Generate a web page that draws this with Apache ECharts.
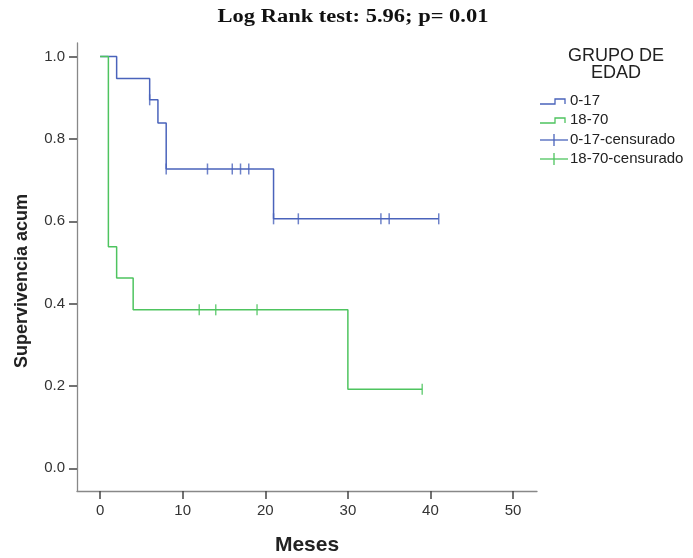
<!DOCTYPE html>
<html>
<head>
<meta charset="utf-8">
<script src="https://cdn.jsdelivr.net/npm/echarts@6/dist/echarts.min.js"></script>
<style>
  html, body { margin: 0; padding: 0; background: #fff; }
  #main { width: 693px; height: 558px; }
</style>
</head>
<body>
<div id="main"></div>
<script>
// curvas Kaplan-Meier (tiempo en meses, supervivencia acumulada)
var tiempoJoven = [0, 2, 6, 7, 8, 21, 41];
var survJoven   = [1, 0.947, 0.895, 0.839, 0.727, 0.606, 0.606];
var tiempoAdulto = [0, 1, 2, 4, 30, 39];
var survAdulto   = [1, 0.538, 0.462, 0.385, 0.192, 0.192];

// casos censurados
var censJovenT = [6, 8, 13, 16, 17, 18, 21, 24, 34, 35, 41];
var censJovenS = [0.895, 0.727, 0.727, 0.727, 0.727, 0.727, 0.606, 0.606, 0.606, 0.606, 0.606];
var censAdultoT = [12, 14, 19, 39];
var censAdultoS = [0.385, 0.385, 0.385, 0.192];

var xTicks = [0, 10, 20, 30, 40, 50];
var yTicks = [0, 0.2, 0.4, 0.6, 0.8, 1.0];
var legendNames = ['0-17', '18-70', '0-17-censurado', '18-70-censurado'];

var azul = '#4a63bb';
var verde = '#4ec45f';
var sans = '"Liberation Sans", Arial, sans-serif';

function pares(xs, ys) {
    var out = [];
    for (var i = 0; i < xs.length; i++) out.push([xs[i], ys[i]]);
    return out;
}

var myChart = echarts.init(document.getElementById('main'));

// leyenda dibujada a mano (icono escalonado y cruz)
var lg = [];
var lgY = [101, 120, 140, 159];
var lgCol = [azul, verde, azul, verde];
for (var i = 0; i < legendNames.length; i++) {
    var y = lgY[i];
    if (i < 2) {
        lg.push({ type: 'polyline', shape: { points: [[540, y + 3], [555, y + 3], [555, y - 2], [565, y - 2], [565, y + 3]] },
                  style: { stroke: lgCol[i], lineWidth: 1.3, fill: null } });
    } else {
        lg.push({ type: 'line', shape: { x1: 540, y1: y, x2: 568, y2: y }, style: { stroke: lgCol[i], lineWidth: 1.3 } });
        lg.push({ type: 'line', shape: { x1: 554, y1: y - 6, x2: 554, y2: y + 6 }, style: { stroke: lgCol[i], lineWidth: 1.3 } });
    }
    lg.push({ type: 'text', x: 570, y: y, style: { text: legendNames[i], fill: '#222', font: '15px ' + sans, verticalAlign: 'middle' } });
}
lg.push({ type: 'text', x: 616, y: 56, style: { text: 'GRUPO DE', fill: '#222', font: '18px ' + sans, align: 'center', verticalAlign: 'middle' } });
lg.push({ type: 'text', x: 616, y: 73, style: { text: 'EDAD', fill: '#222', font: '18px ' + sans, align: 'center', verticalAlign: 'middle' } });
// titulo (serif ancho como en el original)
lg.push({ type: 'text', x: 353, y: 17, scaleX: 1.25,
          style: { text: 'Log Rank test: 5.96; p= 0.01', fill: '#111', font: 'bold 18px "Liberation Serif", "Times New Roman", serif', align: 'center', verticalAlign: 'middle' } });

option = {
    backgroundColor: '#fff',
    animation: false,
    grid: { left: 77, right: 156, top: 43, bottom: 67, outerBoundsMode: 'none' },
    xAxis: {
        type: 'value',
        min: -2.8,
        max: 52.9,
        name: 'Meses',
        nameLocation: 'middle',
        nameGap: 44,
        nameMoveOverlap: false,
        nameTextStyle: { fontFamily: sans, fontWeight: 'bold', fontSize: 21, color: '#222' },
        splitLine: { show: false },
        axisLine: { onZero: false, lineStyle: { color: '#888', width: 1.3 } },
        axisTick: { show: true, customValues: xTicks, length: 8, lineStyle: { color: '#444', width: 1.5 } },
        axisLabel: { customValues: xTicks, margin: 12, fontSize: 15, color: '#333', fontFamily: sans }
    },
    yAxis: {
        type: 'value',
        min: -0.055,
        max: 1.033,
        name: 'Supervivencia acum',
        nameLocation: 'middle',
        nameGap: 46,
        nameMoveOverlap: false,
        nameTextStyle: { fontFamily: sans, fontWeight: 'bold', fontSize: 18, color: '#222', padding: [0, 28, 0, 0] },
        splitLine: { show: false },
        axisLine: { show: true, onZero: false, lineStyle: { color: '#888', width: 1.3 } },
        axisTick: { show: true, customValues: yTicks, length: 8, lineStyle: { color: '#444', width: 1.5 } },
        axisLabel: {
            customValues: yTicks, margin: 12, fontSize: 15, color: '#333', fontFamily: sans,
            formatter: function (v) { return v.toFixed(1); }
        }
    },
    graphic: lg,
    series: [
        {
            name: legendNames[0], type: 'line', step: 'end', showSymbol: false,
            lineStyle: { color: azul, width: 1.5 },
            data: pares(tiempoJoven, survJoven)
        },
        {
            name: legendNames[1], type: 'line', step: 'end', showSymbol: false,
            lineStyle: { color: verde, width: 1.5 },
            data: pares(tiempoAdulto, survAdulto)
        },
        {
            name: legendNames[2], type: 'scatter', symbol: 'rect', symbolSize: [1.5, 11],
            itemStyle: { color: azul },
            data: pares(censJovenT, censJovenS)
        },
        {
            name: legendNames[3], type: 'scatter', symbol: 'rect', symbolSize: [1.5, 11],
            itemStyle: { color: verde },
            data: pares(censAdultoT, censAdultoS)
        }
    ]
};

myChart.setOption(option);
</script>
</body>
</html>
